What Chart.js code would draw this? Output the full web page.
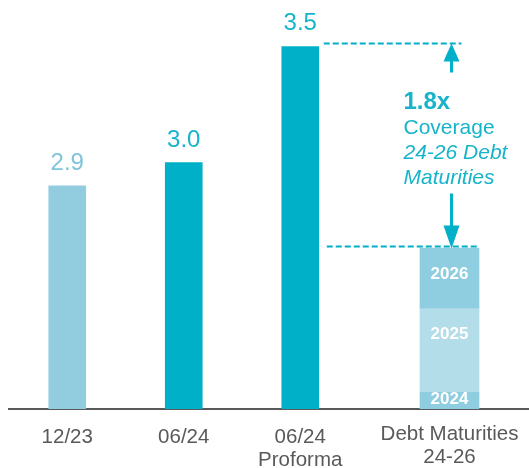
<!DOCTYPE html>
<html>
<head>
<meta charset="utf-8">
<script src="https://cdn.jsdelivr.net/npm/chart.js"></script>
<style>
html, body { margin: 0; padding: 0; background: #fff; }
#wrap { width: 529px; height: 468px; }
</style>
</head>
<body>
<div id="wrap"><canvas id="myChart"></canvas></div>
<script>
// leverage bars
var periods = ['12/23', '06/24', ['06/24', 'Proforma']];
var leverage = [2.9, 3.0, 3.5];

// debt maturities 24-26 (stacked)
var debtLabel = [['Debt Maturities', '24-26']];
var maturityYears = ['2024', '2025', '2026'];
var maturities = [0.20, 1.01, 0.73];

var FONT = '"Liberation Sans", Arial, sans-serif';
var teal = '#00b0c8';
var lightBlue = '#92cddf';
var barColors = [lightBlue, teal, teal];
var labelColors = ['#80c4da', '#16b4ca', '#16b4ca'];
var maturityColors = ['#8fcde0', '#b2dde9', '#8fcde0'];

function sum(a) { return a.reduce(function(s, v) { return s + v; }, 0); }

// labels, dashed lines, arrows, coverage text
var notes = {
  id: 'notes',
  afterDatasetsDraw: function(chart) {
    var ctx = chart.ctx;
    var bars = chart.getDatasetMeta(0).data;
    ctx.save();

    // values above bars
    ctx.textAlign = 'center';
    ctx.textBaseline = 'alphabetic';
    ctx.font = '24px ' + FONT;
    bars.forEach(function(b, i) {
      ctx.fillStyle = labelColors[i];
      ctx.fillText(leverage[i].toFixed(1), b.x, b.y - 16);
    });

    // year labels inside the stack
    ctx.font = 'bold 17px ' + FONT;
    ctx.fillStyle = '#ffffff';
    ctx.textBaseline = 'middle';
    for (var k = 0; k < maturities.length; k++) {
      var seg = chart.getDatasetMeta(1 + k).data[0];
      ctx.fillText(maturityYears[k], seg.x, Math.min(seg.y + 26, seg.base - 10));
    }

    var pro = bars[2];
    var debtTop = chart.getDatasetMeta(maturities.length).data[0];
    var ax = debtTop.x + 2;
    var yHi = pro.y - 3;
    var yLo = debtTop.y - 1.5;

    // dashed lines
    ctx.strokeStyle = teal;
    ctx.lineWidth = 2;
    ctx.setLineDash([6, 3]);
    ctx.beginPath();
    ctx.moveTo(pro.x + pro.width / 2 + 5, yHi);
    ctx.lineTo(ax + 10, yHi);
    ctx.moveTo(pro.x + pro.width / 2 + 8, yLo);
    ctx.lineTo(debtTop.x + debtTop.width / 2 - 1, yLo);
    ctx.stroke();
    ctx.setLineDash([]);

    // arrows
    ctx.lineWidth = 3;
    ctx.fillStyle = teal;
    ctx.beginPath();
    ctx.moveTo(ax, yHi + 29);
    ctx.lineTo(ax, yHi + 16);
    ctx.moveTo(ax, yHi + 150);
    ctx.lineTo(ax, yLo - 20);
    ctx.stroke();
    ctx.beginPath();
    ctx.moveTo(ax, yHi);
    ctx.lineTo(ax - 8, yHi + 18);
    ctx.lineTo(ax + 8, yHi + 18);
    ctx.closePath();
    ctx.fill();
    ctx.beginPath();
    ctx.moveTo(ax, yLo + 2);
    ctx.lineTo(ax - 8, yLo - 21);
    ctx.lineTo(ax + 8, yLo - 21);
    ctx.closePath();
    ctx.fill();

    // coverage text
    var tx = ax - 48;
    ctx.textAlign = 'left';
    ctx.textBaseline = 'alphabetic';
    ctx.fillStyle = '#16b4ca';
    ctx.font = 'bold 24px ' + FONT;
    ctx.fillText((leverage[2] / sum(maturities)).toFixed(1) + 'x', tx, yHi + 66);
    ctx.font = '21px ' + FONT;
    ctx.fillText('Coverage', tx, yHi + 91);
    ctx.font = 'italic 21px ' + FONT;
    ctx.fillText('24-26 Debt', tx, yHi + 116);
    ctx.fillText('Maturities', tx, yHi + 141);

    ctx.restore();
  }
};

function xAxis(labels, weight, pad) {
  return {
    type: 'category',
    axis: 'x',
    position: 'bottom',
    labels: labels,
    stack: 'bottom',
    stackWeight: weight,
    offset: true,
    grid: { display: false, drawTicks: false },
    border: { display: true, color: '#595959', width: 2 },
    ticks: {
      color: '#595959',
      font: { family: FONT, size: 20.5, lineHeight: 1.12 },
      padding: pad,
      maxRotation: 0,
      autoSkip: false
    },
    afterFit: function(s) {
      s.height = 59;
      s.paddingLeft = 0;
      s.paddingRight = 0;
    }
  };
}

var datasets = [{
  data: leverage,
  xAxisID: 'x',
  yAxisID: 'y',
  grouped: false,
  backgroundColor: barColors,
  barThickness: 37
}];
maturities.forEach(function(v, i) {
  datasets.push({
    label: maturityYears[i],
    data: [v],
    xAxisID: 'x2',
    yAxisID: 'y2',
    stack: 'debt',
    grouped: false,
    backgroundColor: maturityColors[i],
    barThickness: 59
  });
});

new Chart('myChart', {
  type: 'bar',
  data: { datasets: datasets },
  options: {
    responsive: true,
    maintainAspectRatio: false,
    animation: false,
    layout: { padding: { left: 9, right: 0, top: 0, bottom: 0 } },
    plugins: {
      legend: { display: false },
      tooltip: { enabled: false }
    },
    scales: {
      x: xAxis(periods, 349.5, 17),
      xgap: xAxis([], 11.5, 0),
      x2: xAxis(debtLabel, 159, 14),
      y: { display: false, min: 1.94, max: 3.70 },
      y2: { display: false, min: 0, max: 4.93, stacked: true }
    }
  },
  plugins: [notes]
});
</script>
</body>
</html>
